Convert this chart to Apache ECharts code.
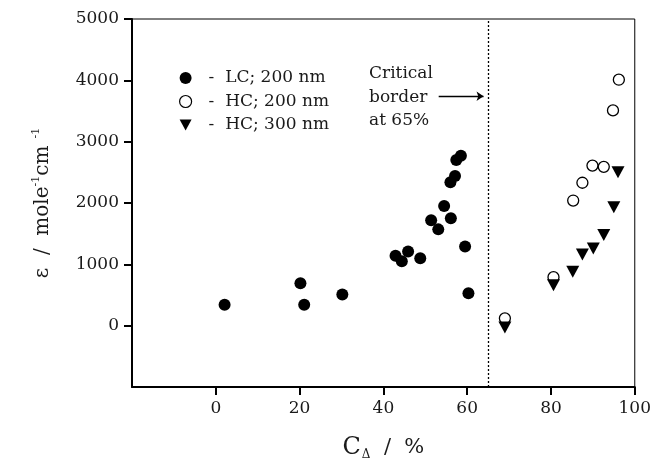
<!DOCTYPE html>
<html>
<head>
    <meta charset="UTF-8">
    <script src="https://cdn.jsdelivr.net/npm/echarts@6/dist/echarts.min.js"></script>
    <title>Critical border</title>
    <style>
        html, body { margin: 0; padding: 0; background: #fff; }
    </style>
</head>
<body>
    <div id="main" style="width:654px;height:466px;"></div>
    <script type="text/javascript">
        // data
        var lcX = [2.1, 20.2, 21.1, 30.2, 42.9, 44.4, 45.9, 48.8, 51.4, 53.1, 54.5, 56.1, 56.0, 57.1, 57.4, 58.5, 59.5, 60.3];
        var lcY = [340, 690, 340, 510, 1140, 1050, 1210, 1100, 1720, 1570, 1950, 1750, 2340, 2440, 2700, 2770, 1290, 530];
        var hc200X = [69.0, 80.6, 85.3, 87.5, 89.9, 92.6, 94.8, 96.2];
        var hc200Y = [120, 790, 2040, 2330, 2610, 2590, 3510, 4010];
        var hc300X = [69.0, 80.6, 85.2, 87.5, 90.1, 92.6, 95.0, 96.0];
        var hc300Y = [-30, 660, 880, 1160, 1260, 1480, 1930, 2500];
        var xTicks = [0, 20, 40, 60, 80, 100];
        var yTicks = [0, 1000, 2000, 3000, 4000, 5000];
        var borderX = 65;

        function pairs(xs, ys) {
            var out = [];
            for (var i = 0; i < xs.length; i++) out.push([xs[i], ys[i]]);
            return out;
        }

        var serif = 'DejaVu Serif';
        var ink = '#1a1a1a';
        var downTri = 'path://M0,0 L12,0 L6,11 Z';

        var myChart = echarts.init(document.getElementById('main'));

        var option = {
            animation: false,
            backgroundColor: '#fff',
            grid: {
                left: 132, right: 18, top: 19, bottom: 77,
                show: true, borderColor: '#000', borderWidth: 1,
                backgroundColor: 'transparent'
            },
            legend: {
                orient: 'vertical',
                left: 174,
                top: 64,
                itemWidth: 12,
                itemHeight: 12,
                itemGap: 5.5,
                selectedMode: false,
                textStyle: {
                    fontFamily: serif, fontSize: 17, color: ink, lineHeight: 18,
                    rich: { d: { fontFamily: serif, fontSize: 17, color: ink, padding: [0, 0, 0, 12] } }
                },
                formatter: function (name) { return '{d|-}  ' + name; },
                data: [
                    { name: 'LC; 200 nm', icon: 'circle' },
                    { name: 'HC; 200 nm', icon: 'circle', itemStyle: { color: '#fff', borderColor: '#000', borderWidth: 1.2 } },
                    { name: 'HC; 300 nm', icon: downTri }
                ]
            },
            graphic: [{
                type: 'text',
                left: 369,
                top: 62,
                style: {
                    text: 'Critical\nborder\nat 65%',
                    fontFamily: serif, fontSize: 17, lineHeight: 23.5, fill: ink
                }
            }],
            xAxis: [{
                type: 'value',
                min: -20, max: 100, interval: 20,
                name: '{c|C}{s|Δ}{t|  /  %}',
                nameLocation: 'middle',
                nameGap: 48,
                nameTextStyle: {
                    rich: {
                        c: { fontFamily: serif, fontSize: 24, color: ink },
                        s: { fontFamily: serif, fontSize: 12, color: ink, padding: [14, 0, 0, 1] },
                        t: { fontFamily: serif, fontSize: 21, color: ink }
                    }
                },
                axisLine: { show: true, onZero: false, lineStyle: { color: '#000', width: 2 } },
                axisTick: { show: false },
                axisLabel: {
                    formatter: function (v) { return xTicks.indexOf(v) >= 0 ? String(v) : ''; },
                    margin: 13, fontFamily: serif, fontSize: 17, color: ink
                },
                splitLine: { show: false }
            }, {
                // second bottom axis that only carries the tick marks
                type: 'value',
                position: 'bottom',
                min: -20, max: 100, interval: 20,
                axisLine: { show: false, onZero: false },
                axisTick: { show: true, length: 8, inside: false, customValues: xTicks, lineStyle: { color: '#000', width: 2 } },
                axisLabel: { show: false },
                splitLine: { show: false }
            }],
            yAxis: {
                type: 'value',
                min: -1000, max: 5000, interval: 1000,
                name: '{t|ε  /  mole}{p|-1}{t|cm}{p|  -1}',
                nameLocation: 'middle',
                nameRotate: 90,
                nameGap: 78,
                nameTextStyle: {
                    rich: {
                        t: { fontFamily: serif, fontSize: 20, color: ink },
                        p: { fontFamily: serif, fontSize: 11, color: ink, padding: [0, 0, 12, 0] }
                    }
                },
                axisLine: { show: true, onZero: false, lineStyle: { color: '#000', width: 2 } },
                axisTick: { show: true, length: 8, inside: false, customValues: yTicks, lineStyle: { color: '#000', width: 2 } },
                axisLabel: {
                    customValues: yTicks,
                    formatter: function (v) { return String(v); },
                    margin: 13, fontFamily: serif, fontSize: 17, color: ink
                },
                splitLine: { show: false }
            },
            series: [{
                name: 'LC; 200 nm',
                type: 'scatter',
                symbol: 'circle',
                symbolSize: 12,
                itemStyle: { color: '#000', opacity: 1 },
                emphasis: { disabled: true },
                data: pairs(lcX, lcY),
                markLine: {
                    silent: true,
                    symbol: ['none', 'none'],
                    label: { show: false },
                    lineStyle: { color: '#000', width: 1.3, type: [2, 2] },
                    emphasis: { disabled: true },
                    data: [{ xAxis: borderX }]
                }
            }, {
                name: 'HC; 200 nm',
                type: 'scatter',
                symbol: 'circle',
                symbolSize: 11,
                itemStyle: { color: 'rgba(255,255,255,0)', borderColor: '#000', borderWidth: 1.3, opacity: 1 },
                emphasis: { disabled: true },
                data: pairs(hc200X, hc200Y),
                markLine: {
                    silent: true,
                    symbol: ['none', 'arrow'],
                    symbolSize: 7,
                    label: { show: false },
                    lineStyle: { color: '#000', width: 1.3, type: 'solid' },
                    itemStyle: { color: '#000' },
                    emphasis: { disabled: true },
                    data: [[{ coord: [53.2, 3740] }, { coord: [63.9, 3740] }]]
                }
            }, {
                name: 'HC; 300 nm',
                type: 'scatter',
                symbol: 'triangle',
                symbolRotate: 180,
                symbolSize: [13, 12],
                itemStyle: { color: '#000', opacity: 1 },
                emphasis: { disabled: true },
                data: pairs(hc300X, hc300Y)
            }]
        };

        myChart.setOption(option);
    </script>
</body>
</html>
